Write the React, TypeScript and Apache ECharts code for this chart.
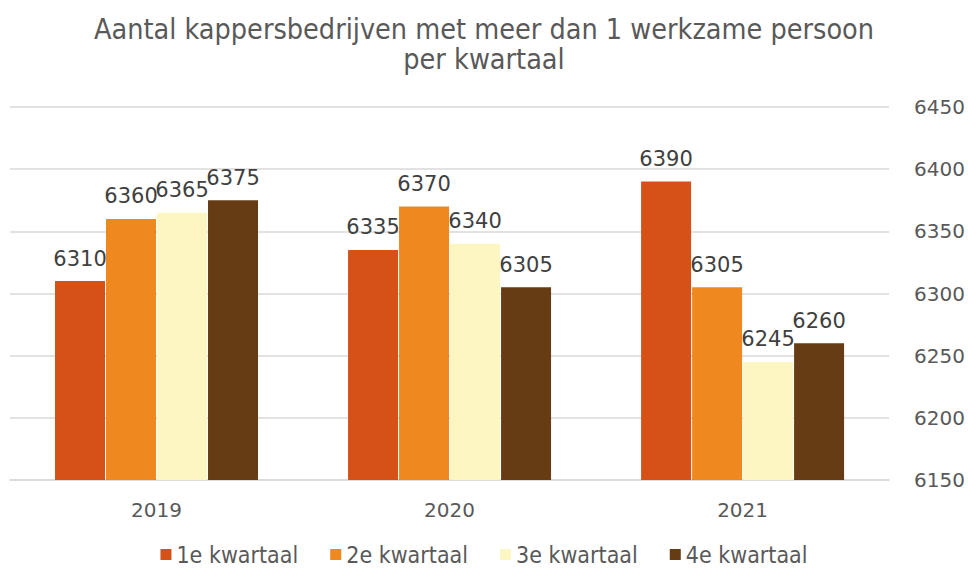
import React, { useEffect, useRef } from "react";
import * as echarts from "echarts";

const years = ["2019", "2020", "2021"];
const seriesNames = ["1e kwartaal", "2e kwartaal", "3e kwartaal", "4e kwartaal"];
const q1 = [6310, 6335, 6390];
const q2 = [6360, 6370, 6305];
const q3 = [6365, 6340, 6245];
const q4 = [6375, 6305, 6260];
const yTicks = { min: 6150, max: 6450, interval: 50 };
const colors = ["#D55118", "#EF881F", "#FDF5C2", "#663C14"];
const titleText = "Aantal kappersbedrijven met meer dan 1 werkzame persoon\nper kwartaal";

export default function App() {
  const ref = useRef<HTMLDivElement>(null);
  useEffect(() => {
    document.body.style.margin = "0";
    if (!ref.current) return;
    const chart = echarts.init(ref.current, null, { renderer: "svg" });
    const all = [q1, q2, q3, q4];
    chart.setOption({
      animation: false,
      title: {
        text: titleText,
        left: "center",
        top: 9,
        textStyle: {
          fontFamily: "DejaVu Sans Condensed, DejaVu Sans",
          fontWeight: "normal",
          fontSize: 28.5,
          lineHeight: 30,
          color: "#595959",
        },
      },
      legend: {
        top: 543,
        left: "center",
        padding: 0,
        itemWidth: 11,
        itemHeight: 11,
        itemGap: 32,
        icon: "rect",
        textStyle: {
          fontFamily: "DejaVu Sans Condensed, DejaVu Sans",
          fontSize: 23,
          lineHeight: 22,
          color: "#595959",
        },
        data: seriesNames,
      },
      grid: { left: 10, right: 78, top: 107, bottom: 89 },
      xAxis: {
        type: "category",
        data: years,
        axisLine: { lineStyle: { color: "#d9d9d9", width: 1.5 } },
        axisTick: { show: false },
        axisLabel: {
          margin: 20,
          fontFamily: "DejaVu Sans",
          fontSize: 20,
          color: "#595959",
        },
      },
      yAxis: {
        type: "value",
        position: "right",
        min: yTicks.min,
        max: yTicks.max,
        interval: yTicks.interval,
        axisLine: { show: false },
        axisTick: { show: false },
        splitLine: { lineStyle: { color: "#d9d9d9", width: 1.5 } },
        axisLabel: {
          margin: 25,
          fontFamily: "DejaVu Sans",
          fontSize: 20,
          color: "#595959",
          formatter: (v: number) => String(v),
        },
      },
      series: seriesNames.map((name, i) => ({
        name,
        type: "bar",
        data: all[i],
        barWidth: 50,
        barGap: "2%",
        itemStyle: { color: colors[i] },
        label: {
          show: true,
          position: "top",
          distance: 12,
          fontFamily: "DejaVu Sans",
          fontSize: 21,
          color: "#404040",
        },
      })),
    });
    return () => chart.dispose();
  }, []);
  return <div ref={ref} style={{ width: 968, height: 569 }} />;
}
